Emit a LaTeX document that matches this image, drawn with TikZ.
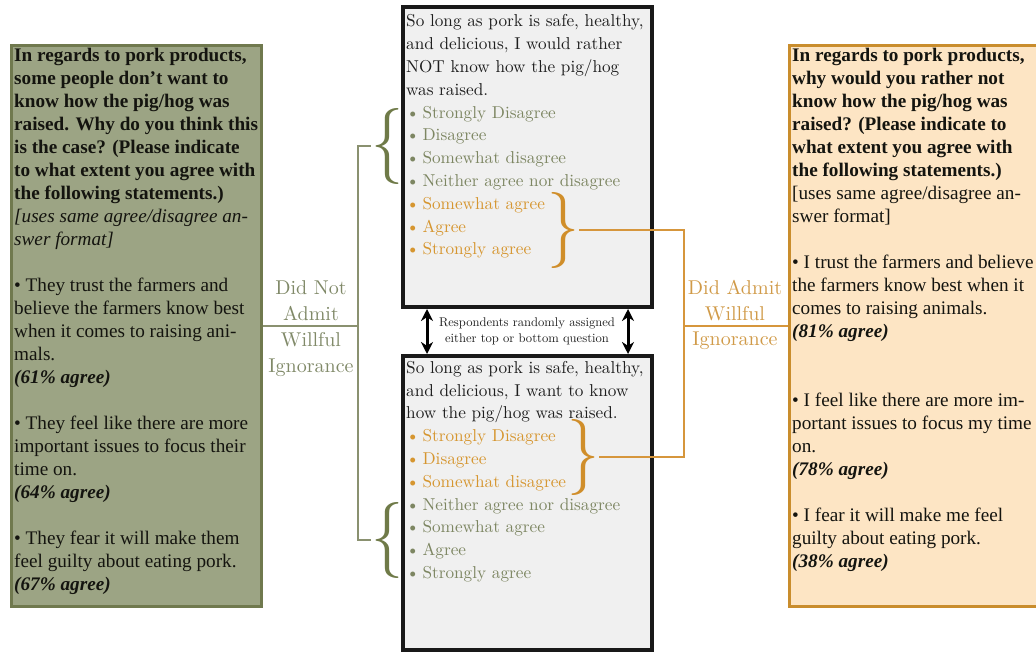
\documentclass[tikz,border=0pt]{standalone}
\usepackage{fontspec}
\usepackage{graphicx}
\newfontfamily\timesfont{Liberation Serif}
\newfontfamily\qfont{lmroman10-regular.otf}
\usetikzlibrary{arrows.meta}

\definecolor{lboxfill}{RGB}{156,164,132}
\definecolor{lboxdraw}{RGB}{112,121,78}
\definecolor{rboxfill}{RGB}{253,229,196}
\definecolor{rboxdraw}{RGB}{201,141,45}
\definecolor{qfill}{RGB}{240,240,240}
\definecolor{boxink}{RGB}{20,20,15}
\definecolor{qink}{RGB}{30,30,30}
\definecolor{olivetext}{RGB}{125,134,98}
\definecolor{orangetext}{RGB}{214,150,48}
\definecolor{olivelbl}{RGB}{128,137,104}
\definecolor{orangelbl}{RGB}{208,154,72}
\definecolor{olivebrace}{RGB}{111,122,72}
\definecolor{orangebrace}{RGB}{208,142,42}
\definecolor{olivelink}{RGB}{138,145,112}
\definecolor{orangelink}{RGB}{214,150,60}

\newcommand{\olv}[1]{\textcolor{olivetext}{\textbullet\hspace{3pt}#1}}
\newcommand{\org}[1]{\textcolor{orangetext}{\textbullet\hspace{3pt}#1}}
\newcommand{\bi}[1]{\textbf{\textit{#1}}}

\tikzset{
    sidebox/.style = {
        draw,
        line width = 3pt,
        minimum height = 561pt,
    },
    qbox/.style = {
        draw = black!90,
        fill = qfill,
        line width = 4pt,
        minimum width = 249pt,
    },
    boxtext/.style = {
        anchor = north west,
        inner sep = 0pt,
        align = left,
        text = boxink,
        font = \timesfont\fontsize{19.2}{23}\selectfont,
    },
    qtext/.style = {
        anchor = north west,
        inner sep = 0pt,
        align = left,
        text = qink,
        font = \qfont\fontsize{17.2}{22.8}\selectfont,
    },
    lbl/.style = {
        inner sep = 0pt,
        align = center,
        font = \qfont\fontsize{20}{26}\selectfont,
    },
    note/.style = {
        inner sep = 0pt,
        align = center,
        text = qink,
        font = \qfont\fontsize{12.6}{16}\selectfont,
    },
    bracenode/.style = {inner sep = 0pt},
    olink/.style = {draw = olivelink, line width = 1.5pt},
    rlink/.style = {draw = orangelink, line width = 1.5pt},
    dblarrow/.style = {<->, >={Stealth[length=12pt, width=12pt]}, line width = 3pt}
}

\begin{document}
\begin{tikzpicture}[x=1pt, y=-1pt]
  \useasboundingbox (0,0) rectangle (1036,652);

  % Side boxes with the follow-up questions
  \node[sidebox, draw=lboxdraw, fill=lboxfill, minimum width=250pt] (lbox) at (136.5,326) {};
  \node[sidebox, draw=rboxdraw, fill=rboxfill, minimum width=262pt] (rbox) at (920.5,326) {};

  % The two question boxes
  \node[qbox, minimum height=300pt] (qtop) at (527.5,157) {};
  \node[qbox, minimum height=294pt] (qbot) at (527.5,503) {};

  % Left box text
  \node[boxtext] (ltext) at (14,48) {%
    \textbf{In regards to pork products,}\\
    \textbf{some people don’t want to}\\
    \textbf{know how the pig/hog was}\\
    \textbf{raised. Why do you think this}\\
    \textbf{is the case? (Please indicate}\\
    \textbf{to what extent you agree with}\\
    \textbf{the following statements.)}\\
    \textit{[uses same agree/disagree an-}\\
    \textit{swer format]}\\[23pt]
    \textbullet{} They trust the farmers and\\
    believe the farmers know best\\
    when it comes to raising ani-\\
    mals.\\
    \bi{(61\% agree)}\\[23pt]
    \textbullet{} They feel like there are more\\
    important issues to focus their\\
    time on.\\
    \bi{(64\% agree)}\\[23pt]
    \textbullet{} They fear it will make them\\
    feel guilty about eating pork.\\
    \bi{(67\% agree)}};

  % Right box text
  \node[boxtext] (rtext) at (792,48) {%
    \textbf{In regards to pork products,}\\
    \textbf{why would you rather not}\\
    \textbf{know how the pig/hog was}\\
    \textbf{raised? (Please indicate to}\\
    \textbf{what extent you agree with}\\
    \textbf{the following statements.)}\\
    {[}uses same agree/disagree an-\\
    swer format]\\[23pt]
    \textbullet{} I trust the farmers and believe\\
    the farmers know best when it\\
    comes to raising animals.\\
    \bi{(81\% agree)}\\[46pt]
    \textbullet{} I feel like there are more im-\\
    portant issues to focus my time\\
    on.\\
    \bi{(78\% agree)}\\[23pt]
    \textbullet{} I fear it will make me feel\\
    guilty about eating pork.\\
    \bi{(38\% agree)}};

  % Top question
  \node[qtext] (qtoptext) at (406,14.6) {%
    So long as pork is safe, healthy,\\
    and delicious, I would rather\\
    NOT know how the pig/hog\\
    was raised.\\
    \olv{Strongly Disagree}\\
    \olv{Disagree}\\
    \olv{Somewhat disagree}\\
    \olv{Neither agree nor disagree}\\
    \org{Somewhat agree}\\
    \org{Agree}\\
    \org{Strongly agree}};

  % Bottom question
  \node[qtext] (qbottext) at (406,361) {%
    So long as pork is safe, healthy,\\
    and delicious, I want to know\\
    how the pig/hog was raised.\\
    \org{Strongly Disagree}\\
    \org{Disagree}\\
    \org{Somewhat disagree}\\
    \olv{Neither agree nor disagree}\\
    \olv{Somewhat agree}\\
    \olv{Agree}\\
    \olv{Strongly agree}};

  % Braces grouping the answers
  \node[bracenode, text=olivebrace] (obtop) at (387,146) {\resizebox*{32pt}{76pt}{\{}};
  \node[bracenode, text=orangebrace] (rbtop) at (563,230) {\resizebox*{32pt}{76pt}{\}}};
  \node[bracenode, text=orangebrace] (rbbot) at (583,457) {\resizebox*{32pt}{76pt}{\}}};
  \node[bracenode, text=olivebrace] (obbot) at (387,540) {\resizebox*{32pt}{76pt}{\{}};

  % Connectors to the side boxes
  \coordinate (lspine) at (358,326);
  \coordinate (rspine) at (684,326);
  \draw[olink] (obtop.west) -| (lspine) |- (obbot.west);
  \draw[olink] (lbox.east) -- (lspine);
  \draw[rlink] (rbtop.east) -| (rspine) |- (rbbot.east);
  \draw[rlink] (rspine) -- (rbox.west);

  % Labels on the connectors
  \node[lbl, text=olivelbl, anchor=south] (notadmit) at (311,321) {Did Not\\Admit};
  \node[lbl, text=olivelbl, anchor=north] (notignor) at (311,332) {Willful\\Ignorance};
  \node[lbl, text=orangelbl, anchor=south] (didadmit) at (735,321) {Did Admit\\Willful};
  \node[lbl, text=orangelbl, anchor=north] (didignor) at (735,332) {Ignorance};

  % Random assignment between the questions
  \draw[dblarrow] ([xshift=26pt]qtop.south west) -- ([xshift=26pt]qbot.north west);
  \draw[dblarrow] ([xshift=-26pt]qtop.south east) -- ([xshift=-26pt]qbot.north east);
  \node[note] (assign) at (527,331) {Respondents randomly assigned\\either top or bottom question};

\end{tikzpicture}
\end{document}
